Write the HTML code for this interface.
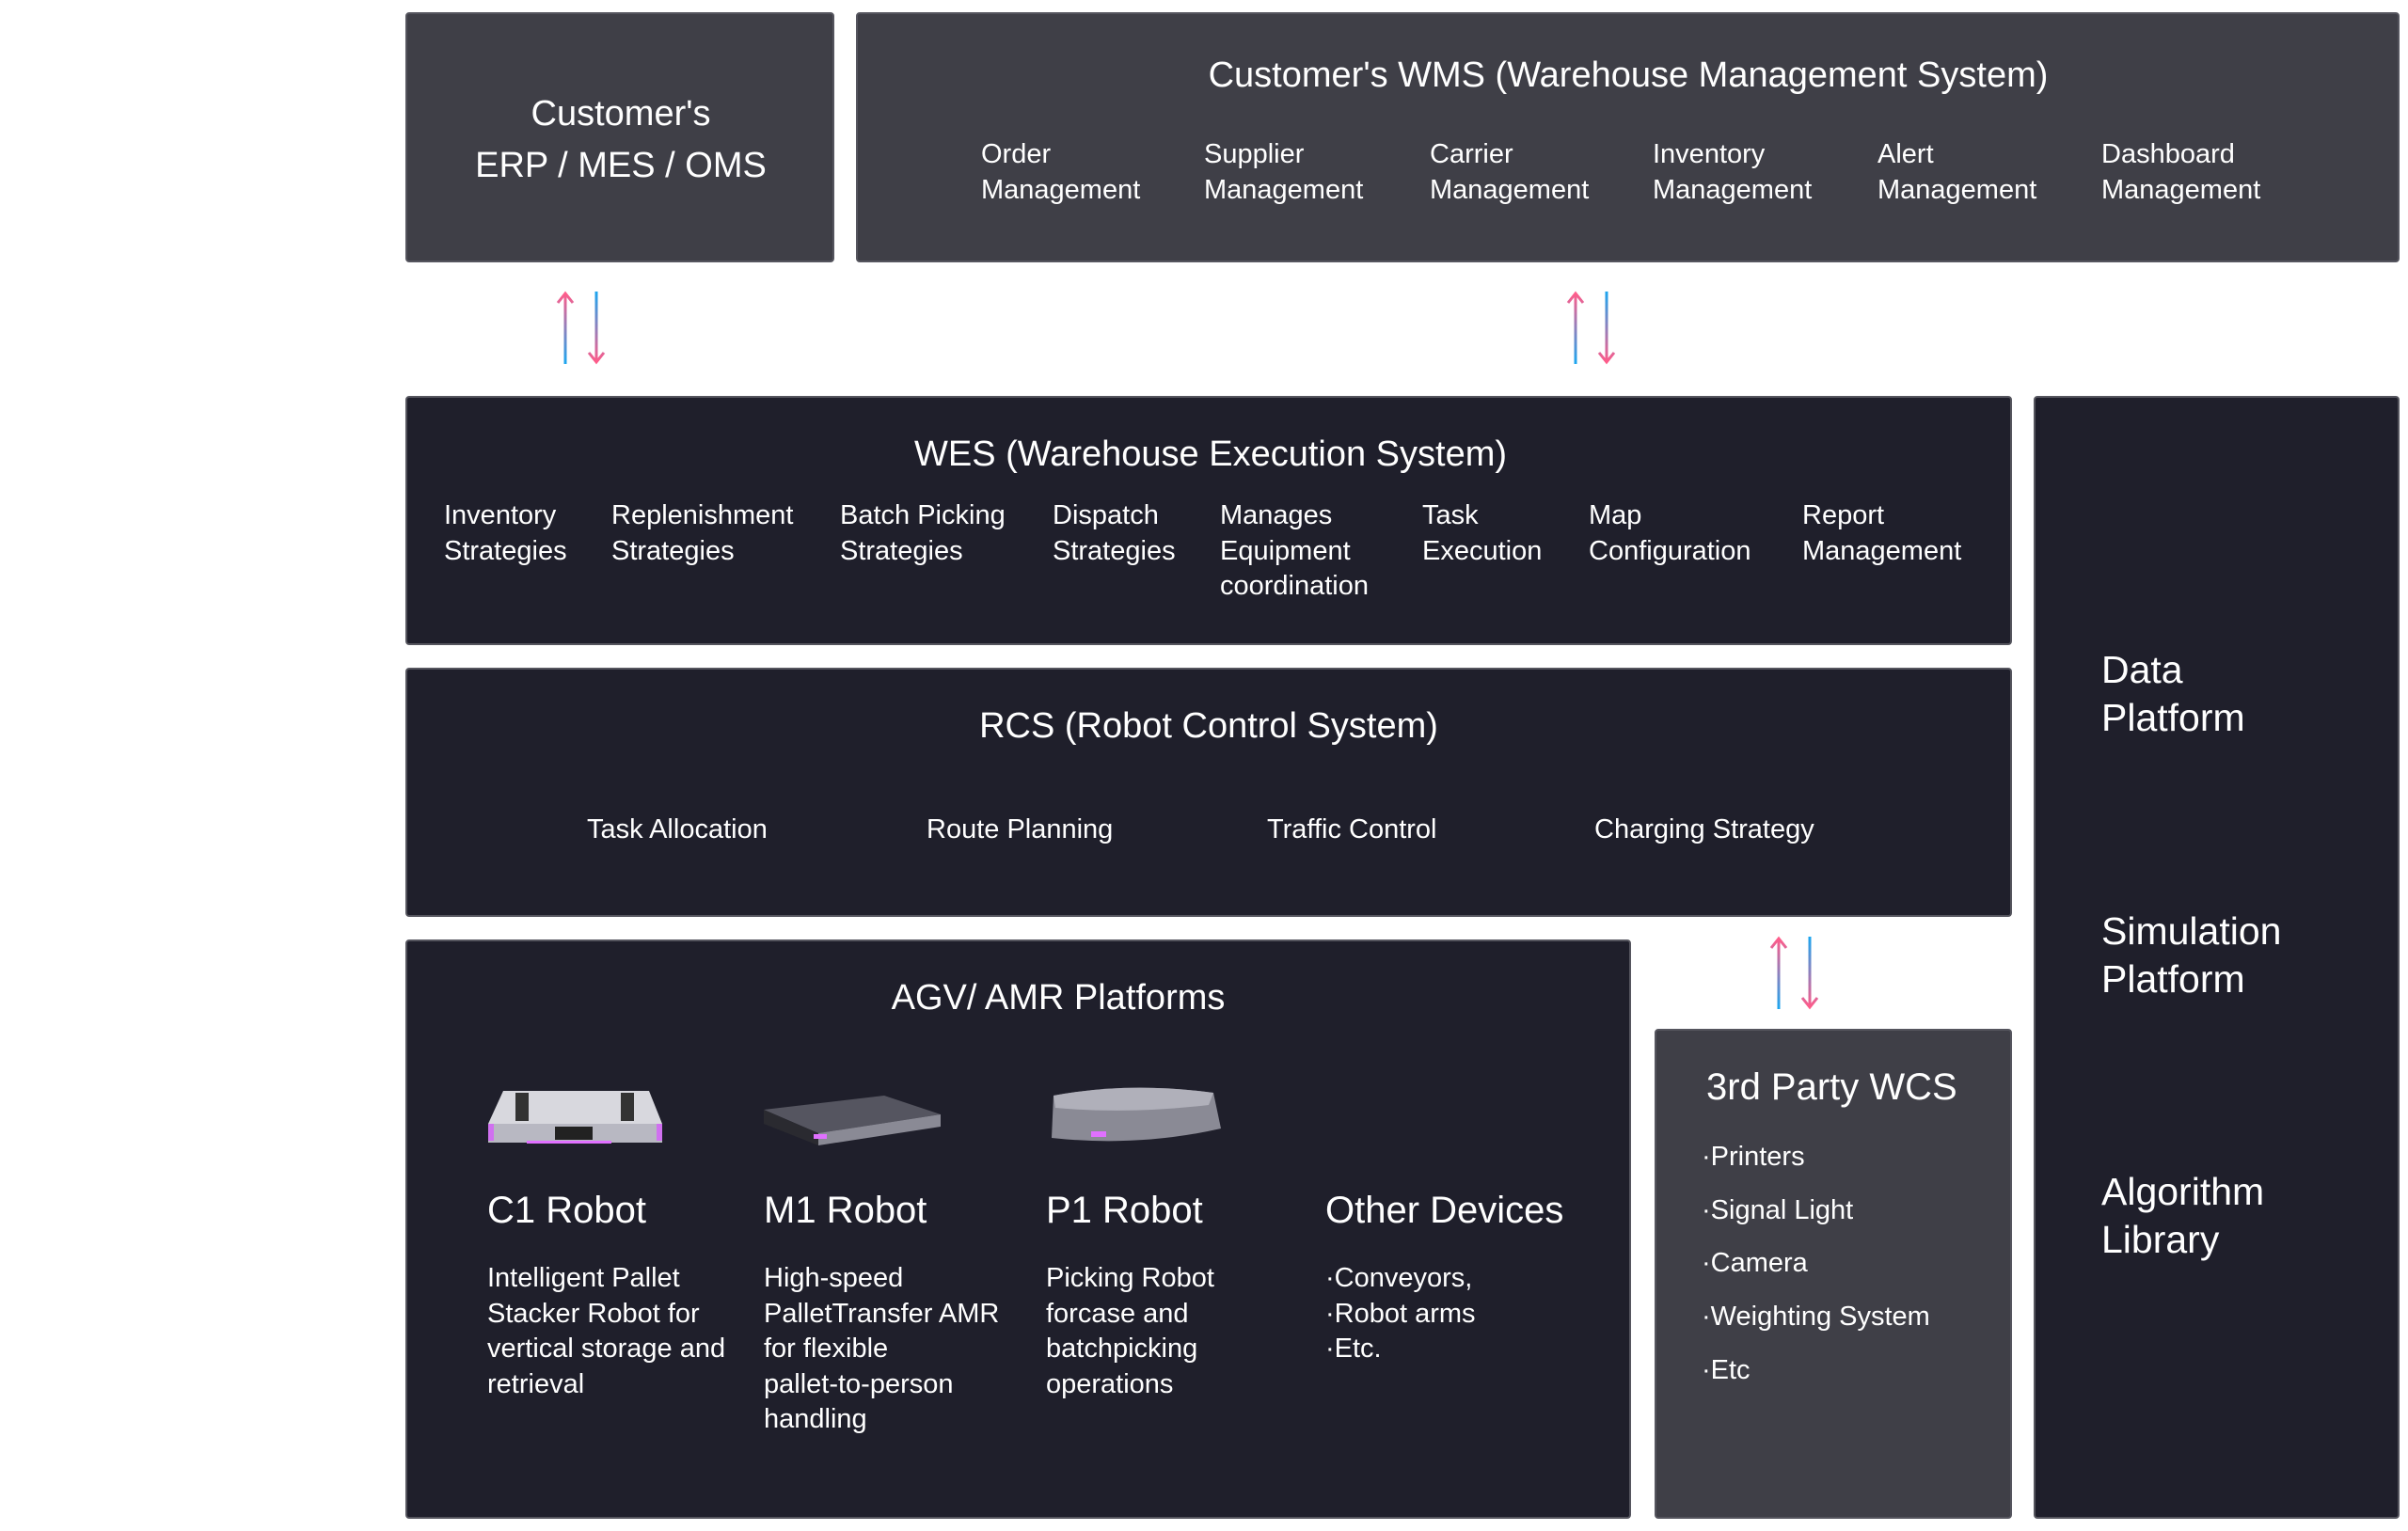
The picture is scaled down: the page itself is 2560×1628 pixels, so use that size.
<!DOCTYPE html>
<html><head><meta charset="utf-8"><style>
*{margin:0;padding:0;box-sizing:border-box}
body{width:2560px;height:1628px;background:#fff;position:relative;overflow:hidden;font-family:"Liberation Sans",sans-serif;color:#fff}
.b{position:absolute;border:2px solid #55555e;border-radius:4px}
.g{background:#3f3f47}.d{background:#1f1f2b}
.t{position:absolute;white-space:nowrap}
.h{font-size:38px;line-height:54px}
.i{font-size:29px;line-height:37.5px}
.n{font-size:40px;line-height:50px}
.c{transform:translateX(-50%);text-align:center}
</style></head><body>
<div class="b g" style="left:431px;top:13px;width:456px;height:266px"></div>
<div class="b g" style="left:910px;top:13px;width:1641px;height:266px"></div>
<div class="b d" style="left:431px;top:421px;width:1708px;height:265px"></div>
<div class="b d" style="left:431px;top:710px;width:1708px;height:265px"></div>
<div class="b d" style="left:431px;top:999px;width:1303px;height:616px"></div>
<div class="b g" style="left:1759px;top:1094px;width:380px;height:521px"></div>
<div class="b d" style="left:2162px;top:421px;width:389px;height:1194px"></div>

<svg width="2560" height="1628" style="position:absolute;left:0;top:0">
<defs>
<linearGradient id="up" x1="0" y1="1" x2="0" y2="0"><stop offset="0" stop-color="#1aa6f0"/><stop offset="1" stop-color="#ff5c8a"/></linearGradient>
<linearGradient id="dn" x1="0" y1="0" x2="0" y2="1"><stop offset="0" stop-color="#1aa6f0"/><stop offset="1" stop-color="#ff5c8a"/></linearGradient>
</defs>
<g stroke-width="3" fill="none">
<path d="M601 387V312M593 322l8-10 8 10" stroke="url(#up)"/>
<path d="M634 310V385M626 375l8 10 8-10" stroke="url(#dn)"/>
<path d="M1675 387V312M1667 322l8-10 8 10" stroke="url(#up)"/>
<path d="M1708 310V385M1700 375l8 10 8-10" stroke="url(#dn)"/>
<path d="M1891 1073V998M1883 1008l8-10 8 10" stroke="url(#up)"/>
<path d="M1924 996V1071M1916 1061l8 10 8-10" stroke="url(#dn)"/>
</g>
<!-- C1 -->
<polygon points="535,1160 690,1160 704,1195 519,1195" fill="#d8d8de"/>
<rect x="519" y="1195" width="185" height="20" fill="#b8b8c2"/>
<rect x="548" y="1162" width="14" height="30" fill="#333"/><rect x="660" y="1162" width="14" height="30" fill="#333"/>
<rect x="590" y="1198" width="40" height="14" fill="#222"/><rect x="560" y="1213" width="90" height="3" fill="#e070ff"/>
<rect x="519" y="1195" width="6" height="18" fill="#d070f0"/><rect x="698" y="1195" width="6" height="18" fill="#d070f0"/>
<!-- M1 -->
<polygon points="812,1180 940,1165 1000,1185 870,1205" fill="#555560"/>
<polygon points="812,1180 870,1205 870,1218 812,1195" fill="#2a2a30"/>
<polygon points="870,1205 1000,1185 1000,1198 870,1218" fill="#8a8a95"/>
<rect x="865" y="1206" width="14" height="5" fill="#e070ff"/>
<!-- P1 -->
<path d="M1120 1165 Q1200 1150 1290 1162 L1298 1200 Q1210 1220 1118 1210 Z" fill="#8a8a95"/>
<path d="M1120 1165 Q1200 1150 1290 1162 L1285 1175 Q1200 1185 1122 1178 Z" fill="#b0b0ba"/>
<rect x="1160" y="1203" width="16" height="6" fill="#e070ff"/>
</svg>

<div class="t h c" style="left:660px;top:94px">Customer's</div>
<div class="t h c" style="left:660px;top:149px">ERP / MES / OMS</div>
<div class="t h c" style="left:1731px;top:53px">Customer's WMS (Warehouse Management System)</div>
<div class="t i" style="left:1043px;top:146px">Order<br>Management</div>
<div class="t i" style="left:1280px;top:146px">Supplier<br>Management</div>
<div class="t i" style="left:1520px;top:146px">Carrier<br>Management</div>
<div class="t i" style="left:1757px;top:146px">Inventory<br>Management</div>
<div class="t i" style="left:1996px;top:146px">Alert<br>Management</div>
<div class="t i" style="left:2234px;top:146px">Dashboard<br>Management</div>

<div class="t h c" style="left:1287px;top:456px">WES (Warehouse Execution System)</div>
<div class="t i" style="left:472px;top:530px">Inventory<br>Strategies</div>
<div class="t i" style="left:650px;top:530px">Replenishment<br>Strategies</div>
<div class="t i" style="left:893px;top:530px">Batch Picking<br>Strategies</div>
<div class="t i" style="left:1119px;top:530px">Dispatch<br>Strategies</div>
<div class="t i" style="left:1297px;top:530px">Manages<br>Equipment<br>coordination</div>
<div class="t i" style="left:1512px;top:530px">Task<br>Execution</div>
<div class="t i" style="left:1689px;top:530px">Map<br>Configuration</div>
<div class="t i" style="left:1916px;top:530px">Report<br>Management</div>

<div class="t h c" style="left:1285px;top:745px">RCS (Robot Control System)</div>
<div class="t i" style="left:624px;top:864px">Task Allocation</div>
<div class="t i" style="left:985px;top:864px">Route Planning</div>
<div class="t i" style="left:1347px;top:864px">Traffic Control</div>
<div class="t i" style="left:1695px;top:864px">Charging Strategy</div>

<div class="t h c" style="left:1125px;top:1034px">AGV/ AMR Platforms</div>
<div class="t n" style="left:518px;top:1262px">C1 Robot</div>
<div class="t n" style="left:812px;top:1262px">M1 Robot</div>
<div class="t n" style="left:1112px;top:1262px">P1 Robot</div>
<div class="t n" style="left:1409px;top:1262px">Other Devices</div>
<div class="t i" style="left:518px;top:1341px">Intelligent Pallet<br>Stacker Robot for<br>vertical storage and<br>retrieval</div>
<div class="t i" style="left:812px;top:1341px">High-speed<br>PalletTransfer AMR<br>for flexible<br>pallet-to-person<br>handling</div>
<div class="t i" style="left:1112px;top:1341px">Picking Robot<br>forcase and<br>batchpicking<br>operations</div>
<div class="t i" style="left:1409px;top:1341px">·Conveyors,<br>·Robot arms<br>·Etc.</div>

<div class="t" style="left:1814px;top:1131px;font-size:40px;line-height:50px">3rd Party WCS</div>
<div class="t i" style="left:1809px;top:1212px">·Printers</div>
<div class="t i" style="left:1809px;top:1269px">·Signal Light</div>
<div class="t i" style="left:1809px;top:1325px">·Camera</div>
<div class="t i" style="left:1809px;top:1382px">·Weighting System</div>
<div class="t i" style="left:1809px;top:1439px">·Etc</div>

<div class="t" style="left:2234px;top:687px;font-size:41px;line-height:51px">Data<br>Platform</div>
<div class="t" style="left:2234px;top:965px;font-size:41px;line-height:51px">Simulation<br>Platform</div>
<div class="t" style="left:2234px;top:1242px;font-size:41px;line-height:51px">Algorithm<br>Library</div>
</body></html>
